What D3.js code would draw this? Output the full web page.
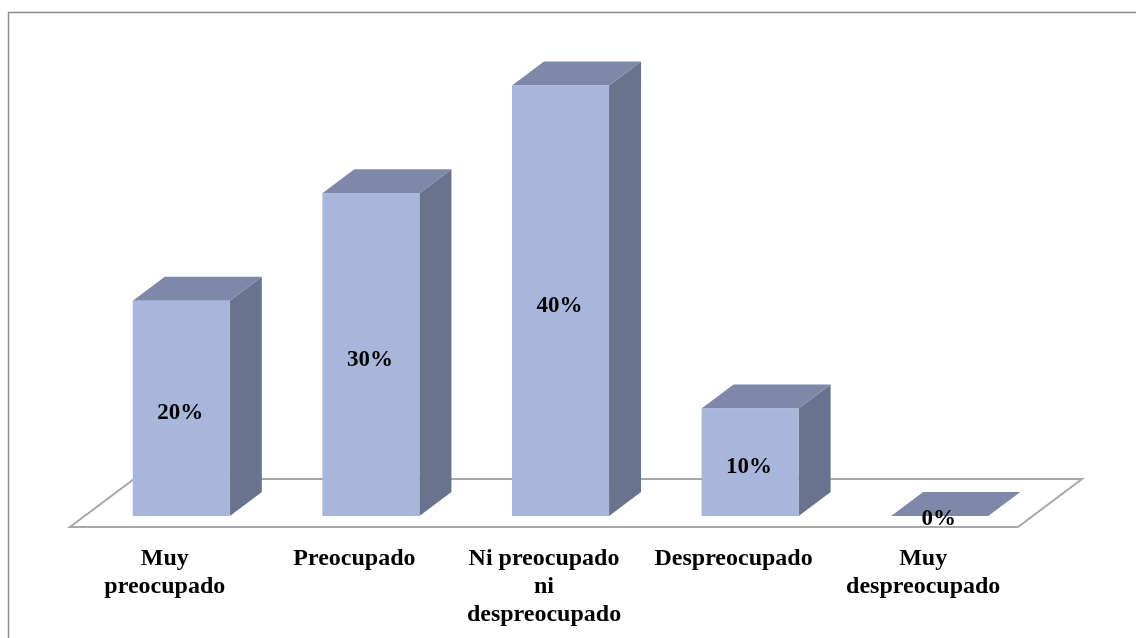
<!DOCTYPE html>
<html>
<head>
<meta charset="utf-8">
<script src="https://cdn.jsdelivr.net/npm/d3@7"></script>
<style>
html, body { margin: 0; padding: 0; background: #fff; overflow: hidden; }
text { font-family: "Liberation Serif", serif; font-weight: bold; fill: #000; }
</style>
</head>
<body>
<div id="chart"></div>
<script>
var categories = ["Muy preocupado", "Preocupado", "Ni preocupado ni despreocupado", "Despreocupado", "Muy despreocupado"];
var values = [20, 30, 40, 10, 0];
var tickLines = [["Muy", "preocupado"], ["Preocupado"], ["Ni preocupado", "ni", "despreocupado"], ["Despreocupado"], ["Muy", "despreocupado"]];

var width = 1136, height = 638;
var depthX = 32, depthY = 24;
var baseY = 516;
var floorLeft = 70, floorRight = 1018, floorY = 527;
var floorDepthX = 64, floorDepthY = 48;

var svg = d3.select("#chart")
    .append("svg")
    .attr("width", width)
    .attr("height", height);

// the reference is a slightly soft scan
svg.append("filter")
    .attr("id", "soft")
    .append("feGaussianBlur")
    .attr("stdDeviation", 0.6);

var g = svg.append("g").attr("filter", "url(#soft)");

g.append("path")
    .attr("d", "M8.5,638V12.5H1136")
    .attr("fill", "none")
    .attr("stroke", "#8c8c8c")
    .attr("stroke-width", 1.5);

var x = d3.scaleBand()
    .domain(categories)
    .range([floorLeft, floorRight])
    .paddingInner(0.488)
    .paddingOuter(0.244);

var y = d3.scaleLinear()
    .domain([0, 40])
    .range([baseY, 85.5]);

// floor of the 3d plot
g.append("path")
    .attr("d", d3.line()([
        [floorLeft, floorY],
        [floorRight, floorY],
        [floorRight + floorDepthX, floorY - floorDepthY],
        [floorLeft + floorDepthX, floorY - floorDepthY]
    ]) + "Z")
    .attr("fill", "#fff")
    .attr("stroke", "#a8a8a8")
    .attr("stroke-width", 2);

var bars = g.selectAll(".bar")
    .data(categories)
    .enter()
    .append("g")
    .attr("class", "bar");

function barLeft(d) { return x(d) + depthX / 2 + 0.5; }
function barRight(d) { return barLeft(d) + x.bandwidth(); }
function barTop(d, i) { return y(values[i]); }

// side face
bars.append("path")
    .attr("fill", "#68738d")
    .attr("d", function (d, i) {
        return d3.line()([
            [barRight(d), baseY],
            [barRight(d) + depthX, baseY - depthY],
            [barRight(d) + depthX, barTop(d, i) - depthY],
            [barRight(d), barTop(d, i)]
        ]) + "Z";
    });

// top face
bars.append("path")
    .attr("fill", "#7e88a8")
    .attr("d", function (d, i) {
        return d3.line()([
            [barLeft(d), barTop(d, i)],
            [barRight(d), barTop(d, i)],
            [barRight(d) + depthX, barTop(d, i) - depthY],
            [barLeft(d) + depthX, barTop(d, i) - depthY]
        ]) + "Z";
    });

// front face
bars.append("rect")
    .attr("x", barLeft)
    .attr("y", barTop)
    .attr("width", x.bandwidth())
    .attr("height", function (d, i) { return baseY - barTop(d, i); })
    .attr("fill", "#a7b6da");

// value labels
bars.append("text")
    .attr("x", function (d) { return barLeft(d) + x.bandwidth() / 2 - 1; })
    .attr("y", function (d, i) { return values[i] === 0 ? 525 : (barTop(d, i) + baseY) / 2 + 11; })
    .attr("text-anchor", "middle")
    .style("font-size", "23px")
    .text(function (d, i) { return values[i] + "%"; });

// category labels through the axis, one tspan per line
var axis = g.append("g")
    .attr("transform", "translate(0," + floorY + ")")
    .call(d3.axisBottom(x).tickSize(0).tickFormat(""));
axis.select(".domain").remove();

axis.selectAll(".tick text")
    .attr("y", 0)
    .attr("dy", null)
    .attr("fill", "#000")
    .style("font-size", "24px")
    .style("font-family", "'Liberation Serif', serif")
    .each(function (d, i) {
        var t = d3.select(this);
        tickLines[i].forEach(function (line, j) {
            t.append("tspan")
                .attr("x", 0)
                .attr("y", 38 + j * 28)
                .text(line);
        });
    });
</script>
</body>
</html>
